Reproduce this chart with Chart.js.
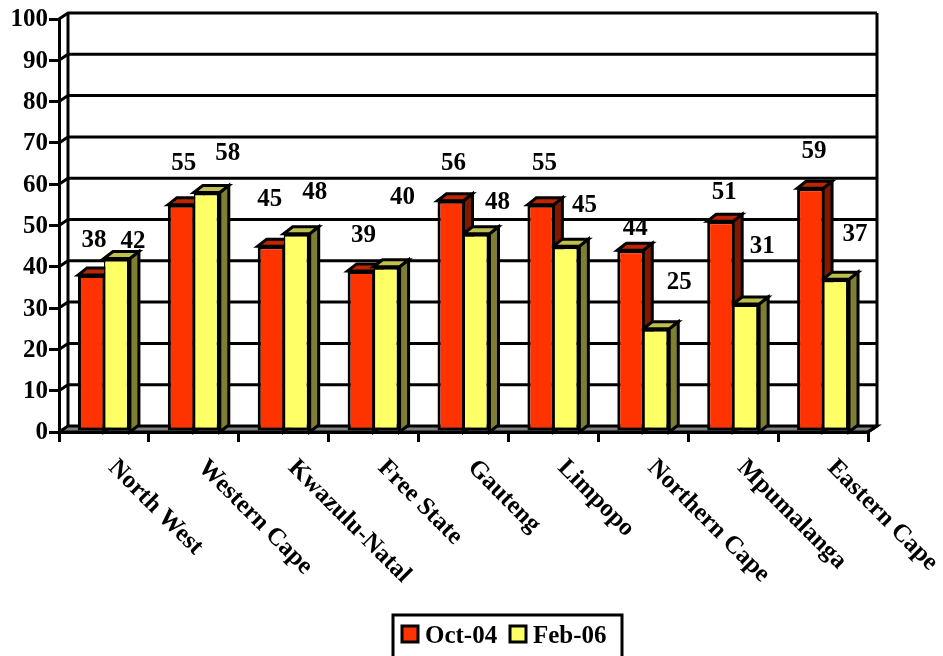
<!DOCTYPE html>
<html>
<head>
<meta charset="utf-8">
<title>Provinces</title>
<script src="https://cdn.jsdelivr.net/npm/chart.js@4"></script>
<style>
  html, body { margin: 0; padding: 0; background: #fff; overflow: hidden; }
  canvas { display: block; }
</style>
</head>
<body>
<canvas id="provinceChart" width="943" height="656"></canvas>
<script>
const provinces = ['North West', 'Western Cape', 'Kwazulu-Natal', 'Free State', 'Gauteng', 'Limpopo', 'Northern Cape', 'Mpumalanga', 'Eastern Cape'];
const oct04 = [38, 55, 45, 39, 56, 55, 44, 51, 59];
const feb06 = [42, 58, 48, 40, 48, 45, 25, 31, 37];
const seriesNames = ['Oct-04', 'Feb-06'];

const FONT = '"Liberation Serif", "Times New Roman", serif';
const wallDx = 9, wallDy = 6;
const barDx = 9, barDy = 7;
const faceColors = [
  { front: '#FF3300', top: '#BF2600', side: '#7F1900' },
  { front: '#FFFF66', top: '#BFBF4C', side: '#7F7F33' }
];
// the value labels sit wherever they were dragged in the original, offsets from the bar top
const labelNudge = [
  [[3, -35], [3, -41], [-1, -47], [3, -35], [3, -37], [4, -41], [5, -22], [4, -29], [4, -37]],
  [[16, -17], [21, -39], [18, -41], [16, -69], [21, -31], [18, -41], [23, -46], [16, -57], [19, -45]]
];

function poly(ctx, pts, fill) {
  ctx.beginPath();
  pts.forEach((p, i) => i ? ctx.lineTo(p[0], p[1]) : ctx.moveTo(p[0], p[1]));
  ctx.closePath();
  if (fill) { ctx.fillStyle = fill; ctx.fill(); }
  ctx.stroke();
}

function drawLegend(chart) {
  const ctx = chart.ctx;
  const swatchX = [402, 510];
  const textX = [425, 533];
  ctx.save();
  ctx.strokeStyle = '#000';
  ctx.lineWidth = 3;
  ctx.fillStyle = '#fff';
  ctx.fillRect(393, 615, 229, 41);
  ctx.strokeRect(393, 615, 229, 50);
  ctx.font = 'bold 25px ' + FONT;
  ctx.textAlign = 'left';
  ctx.textBaseline = 'alphabetic';
  seriesNames.forEach((name, i) => {
    ctx.fillStyle = faceColors[i].front;
    ctx.fillRect(swatchX[i], 626, 16, 16);
    ctx.strokeRect(swatchX[i], 626, 16, 16);
    ctx.fillStyle = '#000';
    ctx.fillText(name, textX[i], 643);
  });
  ctx.restore();
}

const threeD = {
  id: 'threeD',
  beforeDatasetsDraw(chart) {
    const ctx = chart.ctx;
    const { left, right, top, bottom } = chart.chartArea;
    const y = chart.scales.y;
    ctx.save();
    ctx.strokeStyle = '#000';
    ctx.lineWidth = 3;
    ctx.lineJoin = 'miter';

    // floor
    poly(ctx, [[left, bottom], [left + wallDx, bottom - wallDy], [right + wallDx, bottom - wallDy], [right, bottom]], '#808080');

    // side wall + back wall grid
    y.ticks.forEach(t => {
      const py = y.getPixelForValue(t.value);
      if (t.value === 0) return;
      ctx.beginPath();
      ctx.moveTo(left, py);
      ctx.lineTo(left + wallDx, py - wallDy);
      ctx.lineTo(right + wallDx, py - wallDy);
      ctx.stroke();
    });
    ctx.beginPath();
    ctx.moveTo(left + wallDx, top - wallDy);
    ctx.lineTo(left + wallDx, bottom - wallDy);
    ctx.moveTo(right + wallDx, top - wallDy);
    ctx.lineTo(right + wallDx, bottom - wallDy);
    ctx.lineTo(right, bottom);
    ctx.stroke();

    // side and top faces of the bars, the front comes from chart.js
    chart.data.datasets.forEach((ds, i) => {
      chart.getDatasetMeta(i).data.forEach(bar => {
        const x0 = bar.x - bar.width / 2, x1 = bar.x + bar.width / 2;
        const b = y.getPixelForValue(0);
        poly(ctx, [[x1, bar.y], [x1 + barDx, bar.y - barDy], [x1 + barDx, b - barDy], [x1, b]], faceColors[i].side);
        poly(ctx, [[x0, bar.y], [x0 + barDx, bar.y - barDy], [x1 + barDx, bar.y - barDy], [x1, bar.y]], faceColors[i].top);
      });
    });
    ctx.restore();
  },
  afterDatasetsDraw(chart) {
    const ctx = chart.ctx;
    ctx.save();
    ctx.fillStyle = '#000';
    ctx.font = 'bold 25px ' + FONT;
    ctx.textAlign = 'center';
    ctx.textBaseline = 'middle';
    chart.data.datasets.forEach((ds, i) => {
      chart.getDatasetMeta(i).data.forEach((bar, j) => {
        ctx.fillText(ds.data[j], bar.x + labelNudge[i][j][0], bar.y + labelNudge[i][j][1]);
      });
    });

    // slanted category labels
    const x = chart.scales.x;
    ctx.textAlign = 'left';
    provinces.forEach((name, j) => {
      ctx.save();
      ctx.translate(x.getPixelForValue(j) + 8, 464);
      ctx.rotate(Math.PI / 4);
      ctx.fillText(name, 0, 0);
      ctx.restore();
    });
    ctx.restore();

    drawLegend(chart);
  }
};

new Chart(document.getElementById('provinceChart').getContext('2d'), {
  type: 'bar',
  data: {
    labels: provinces,
    datasets: [
      {
        label: seriesNames[0],
        data: oct04,
        backgroundColor: faceColors[0].front,
        borderWidth: { top: 3, left: 3, bottom: 3, right: 1.5 }
      },
      {
        label: seriesNames[1],
        data: feb06,
        backgroundColor: faceColors[1].front,
        borderWidth: { top: 3, left: 1.5, bottom: 3, right: 3 }
      }
    ]
  },
  options: {
    responsive: false,
    animation: false,
    devicePixelRatio: 1,
    layout: { padding: { top: 19, right: 75, left: 0, bottom: 0 } },
    datasets: {
      bar: {
        barPercentage: 1,
        categoryPercentage: 0.578,
        borderColor: '#000',
        borderSkipped: false
      }
    },
    scales: {
      x: {
        afterFit(scale) { scale.height = 224; },
        grid: { drawOnChartArea: false, color: '#000', lineWidth: 3, tickLength: 10 },
        border: { display: true, color: '#000', width: 3 },
        ticks: { display: false, autoSkip: false }
      },
      y: {
        min: 0,
        max: 100,
        afterFit(scale) { scale.width = 59; },
        grid: { drawOnChartArea: false, color: '#000', lineWidth: 3, tickLength: 10 },
        border: { display: true, color: '#000', width: 3 },
        ticks: {
          stepSize: 10,
          padding: 1,
          labelOffset: 1,
          color: '#000',
          font: { family: FONT, size: 25, weight: 'bold' }
        }
      }
    },
    plugins: {
      tooltip: { enabled: false },
      legend: { display: false }
    }
  },
  plugins: [threeD]
});
</script>
</body>
</html>
